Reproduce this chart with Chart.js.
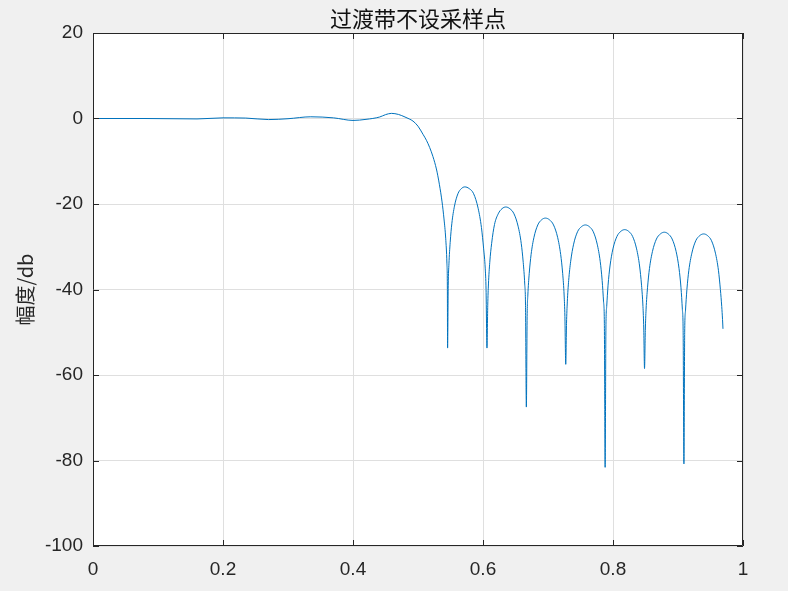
<!DOCTYPE html>
<html>
<head>
<meta charset="utf-8">
<script src="https://cdn.jsdelivr.net/npm/chart.js@4.4.1/dist/chart.umd.min.js"></script>
<style>
  html, body { margin: 0; padding: 0; background: #f0f0f0; }
  #wrap { width: 788px; height: 591px; }
</style>
</head>
<body>
<div id="wrap"><canvas id="chart" width="788" height="591"></canvas></div>
<script>
// passband + transition (normalised frequency, dB)
const passFreq = [0, 0.04, 0.08, 0.12, 0.16, 0.2, 0.235, 0.27, 0.3, 0.335, 0.37, 0.4, 0.42, 0.441, 0.45, 0.459,
    0.47, 0.48, 0.4865, 0.4923, 0.5, 0.5077, 0.513, 0.518, 0.523, 0.5283, 0.5305, 0.533, 0.537, 0.54, 0.5426, 0.5445, 0.5452];
const passDb = [0, 0, 0, -0.05, -0.1, 0.15, 0.1, -0.25, -0.05, 0.4, 0.15, -0.45, -0.2, 0.35, 0.9, 1.2,
    0.95, 0.35, -0.1, -0.6, -1.8, -3.7, -5.1, -6.8, -8.9, -11.8, -13.4, -15.5, -19.5, -23.5, -28, -34, -40];

// stopband lobes
const stopFreq = [
    0.5455, 0.5465, 0.5476, 0.5495, 0.5521, 0.5561, 0.5614, 0.5667, 0.572, 0.5788, 0.5856, 0.5925, 0.5976, 0.601, 0.6034, 0.6047,
    0.6061, 0.6073, 0.6084, 0.6104, 0.6133, 0.6177, 0.6234, 0.6292, 0.635, 0.6413, 0.6477, 0.654, 0.6588, 0.6619, 0.6642, 0.6654,
    0.6667, 0.6679, 0.669, 0.6711, 0.674, 0.6784, 0.6843, 0.6901, 0.696, 0.7023, 0.7085, 0.7148, 0.7195, 0.7226, 0.7248, 0.726,
    0.7273, 0.7285, 0.7297, 0.7318, 0.7349, 0.7394, 0.7454, 0.7515, 0.7575, 0.7636, 0.7697, 0.7757, 0.7803, 0.7833, 0.7855, 0.7867,
    0.7879, 0.7891, 0.7903, 0.7924, 0.7954, 0.7999, 0.806, 0.812, 0.818, 0.8241, 0.8302, 0.8363, 0.8409, 0.8439, 0.8461, 0.8473,
    0.8485, 0.8497, 0.8509, 0.8531, 0.8561, 0.8607, 0.8668, 0.8729, 0.879, 0.885, 0.891, 0.8971, 0.9016, 0.9046, 0.9067, 0.9079,
    0.9091, 0.9103, 0.9115, 0.9137, 0.9167, 0.9213, 0.9273, 0.9334, 0.9395, 0.9455, 0.9516, 0.9576, 0.9622, 0.9652, 0.9673, 0.9685,
    0.9692
];
const stopDb = [
    -53.7, -39, -34, -29, -24.5, -20.5, -17.6, -16.4, -16.0, -16.4, -17.6, -21.0, -25.5, -30.5, -35, -40,
    -53.7, -43.7, -38.7, -33.7, -29.2, -24.8, -22.3, -21.1, -20.7, -21.1, -22.3, -25.2, -29.2, -33.7, -38.7, -43.7,
    -67.5, -46.3, -41.3, -36.3, -31.8, -27.8, -24.9, -23.7, -23.3, -23.7, -24.9, -27.8, -31.8, -36.3, -41.3, -46.3,
    -57.5, -47.9, -42.9, -37.9, -33.4, -29.4, -26.5, -25.3, -24.9, -25.3, -26.5, -29.4, -33.4, -37.9, -42.9, -47.9,
    -81.6, -49, -44, -39, -34.5, -30.5, -27.6, -26.4, -26.0, -26.4, -27.6, -30.5, -34.5, -39, -44, -49,
    -58.5, -49.6, -44.6, -39.6, -35.1, -31.1, -28.2, -27.0, -26.6, -27.0, -28.2, -31.1, -35.1, -39.6, -44.6, -49.6,
    -80.8, -50, -45, -40, -35.5, -31.5, -28.6, -27.4, -27.0, -27.4, -28.6, -31.5, -35.5, -40, -44, -47,
    -49.2
];

const xTicks = [0, 0.2, 0.4, 0.6, 0.8, 1];
const yTicks = [-100, -80, -60, -40, -20, 0, 20];

const titleText = '过渡带不设采样点';
const yLabelText = '幅度/db';

const freq = passFreq.concat(stopFreq);
const magDb = passDb.concat(stopDb);
const points = freq.map((f, i) => ({ x: f, y: magDb[i] }));

const axisColor = '#262626';
const tickFont = { family: '"Liberation Sans", Arial, sans-serif', size: 19 };

// white axes background, box, inward ticks, title and y label (MATLAB look)
const matlabAxes = {
    id: 'matlabAxes',
    beforeDraw(chart) {
        const { ctx, chartArea: a } = chart;
        ctx.save();
        ctx.fillStyle = '#ffffff';
        ctx.fillRect(a.left, a.top, a.right - a.left, a.bottom - a.top);
        ctx.restore();
    },
    afterDraw(chart) {
        const { ctx, chartArea: a, scales } = chart;
        ctx.save();
        ctx.strokeStyle = axisColor;
        ctx.lineWidth = 1;
        ctx.beginPath();
        ctx.rect(a.left + 0.5, a.top + 0.5, a.right - a.left - 1, a.bottom - a.top - 1);
        const len = 6;
        xTicks.forEach(v => {
            const x = Math.round(scales.x.getPixelForValue(v)) + 0.5;
            ctx.moveTo(x, a.bottom); ctx.lineTo(x, a.bottom - len);
            ctx.moveTo(x, a.top); ctx.lineTo(x, a.top + len);
        });
        yTicks.forEach(v => {
            const y = Math.round(scales.y.getPixelForValue(v)) + 0.5;
            ctx.moveTo(a.left, y); ctx.lineTo(a.left + len, y);
            ctx.moveTo(a.right, y); ctx.lineTo(a.right - len, y);
        });
        ctx.stroke();

        ctx.fillStyle = '#111111';
        ctx.textAlign = 'center';
        ctx.textBaseline = 'middle';
        ctx.font = '22px "Noto Sans CJK SC"';
        ctx.fillText(titleText, (a.left + a.right) / 2, 19);

        ctx.fillStyle = axisColor;
        ctx.font = '20px "Noto Sans CJK SC"';
        ctx.translate(25, (a.top + a.bottom) / 2);
        ctx.rotate(-Math.PI / 2);
        ctx.fillText(yLabelText, 0, 0);
        ctx.restore();
    }
};

new Chart(document.getElementById('chart'), {
    type: 'line',
    data: {
        datasets: [{
            data: points,
            borderColor: '#0072BD',
            borderWidth: 1,
            pointRadius: 0,
            fill: false,
            cubicInterpolationMode: 'monotone'
        }]
    },
    options: {
        responsive: false,
        devicePixelRatio: 1,
        animation: false,
        layout: { padding: { top: 33, right: 45, bottom: 0, left: 0 } },
        plugins: {
            legend: { display: false },
            tooltip: { enabled: false },
            title: { display: false }
        },
        scales: {
            x: {
                type: 'linear',
                min: 0,
                max: 1,
                afterFit: s => { s.height = 45; },
                afterBuildTicks: s => { s.ticks = xTicks.map(v => ({ value: v })); },
                grid: { color: '#dfdfdf', drawTicks: false },
                border: { display: false },
                ticks: {
                    color: axisColor, font: tickFont, padding: 12, maxRotation: 0,
                    callback: v => String(Number(v.toFixed(1)))
                }
            },
            y: {
                type: 'linear',
                min: -100,
                max: 20,
                afterFit: s => { s.width = 93; },
                afterBuildTicks: s => { s.ticks = yTicks.map(v => ({ value: v })); },
                grid: { color: '#dfdfdf', drawTicks: false },
                border: { display: false },
                ticks: { color: axisColor, font: tickFont, padding: 10 }
            }
        }
    },
    plugins: [matlabAxes]
});
</script>
</body>
</html>
